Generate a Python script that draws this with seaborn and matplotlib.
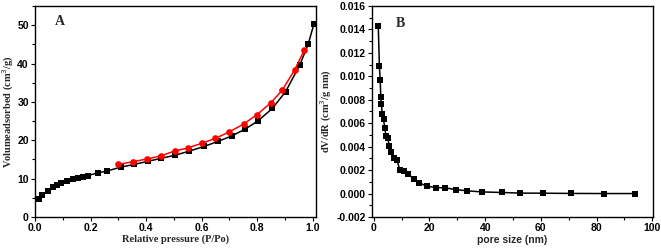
import numpy as np
import pandas as pd
import matplotlib
matplotlib.use("Agg")
import matplotlib.pyplot as plt
from matplotlib.ticker import MultipleLocator
import seaborn as sns

# N2 adsorption branch (black squares)
ads_p = [0.016, 0.026, 0.046, 0.064, 0.080, 0.095, 0.114, 0.138, 0.155, 0.172,
         0.190, 0.227, 0.260, 0.309, 0.357, 0.406, 0.455, 0.504, 0.553, 0.609,
         0.659, 0.708, 0.757, 0.804, 0.855, 0.903, 0.953, 0.984, 1.005]
ads_v = [4.6, 5.8, 6.9, 7.8, 8.4, 8.8, 9.3, 9.8, 10.1, 10.4,
         10.8, 11.5, 12.0, 13.0, 13.7, 14.5, 15.3, 16.1, 17.1, 18.4,
         19.7, 21.1, 22.9, 25.1, 28.3, 32.7, 39.5, 45.0, 50.4]
# desorption branch (red circles)
des_p = [0.300, 0.352, 0.402, 0.452, 0.503, 0.551, 0.600, 0.650, 0.700, 0.751,
         0.800, 0.850, 0.890, 0.935, 0.970]
des_v = [13.7, 14.4, 15.1, 15.9, 17.2, 18.0, 19.2, 20.5, 22.2, 24.2,
         26.7, 29.8, 33.0, 38.3, 43.5]

# pore size distribution
pore_size = [1.6, 2.0, 2.3, 2.5, 2.75, 3.0, 3.5, 3.95, 4.4, 5.0,
             5.6, 6.3, 7.3, 8.3, 9.3, 10.8, 12.3, 14.5, 16.4, 19.0,
             22.3, 25.7, 29.5, 33.6, 38.8, 46.0, 52.5, 60.6, 71.0, 82.8, 93.8]
dvdr = [0.01432, 0.01088, 0.00965, 0.00826, 0.0076, 0.00678, 0.00632, 0.0056, 0.00487, 0.0047,
        0.00407, 0.00353, 0.00307, 0.00285, 0.00205, 0.00194, 0.00168, 0.00122, 0.00091, 0.00063,
        0.00051, 0.00048, 0.00034, 0.00023, 0.00014, 0.00009, 0.00004, 0.00003, 0.00001, 0.0, 0.0]

sns.set_style("ticks")
serif = {"family": "Liberation Serif", "weight": "bold", "size": 7.5}
sans_b = {"family": "Liberation Sans", "weight": "bold", "size": 7.5}

fig = plt.figure(figsize=(6.61, 2.48), dpi=100)
ax1 = fig.add_axes([0.053, 0.125, 0.425, 0.851])
ax2 = fig.add_axes([0.563, 0.125, 0.425, 0.851])

df_ads = pd.DataFrame({"p": ads_p, "v": ads_v})
df_des = pd.DataFrame({"p": des_p, "v": des_v})
sns.lineplot(data=df_ads, x="p", y="v", ax=ax1, color="black", marker="s",
             markersize=4.5, markeredgewidth=0, linewidth=1.1, sort=False)
sns.lineplot(data=df_des, x="p", y="v", ax=ax1, color="#ff0000", marker="o",
             markersize=4.8, markeredgewidth=0, linewidth=1.1, sort=False)
ax1.set_xlim(0, 1.012)
ax1.set_ylim(0, 55)
ax1.xaxis.set_major_locator(MultipleLocator(0.2))
ax1.xaxis.set_minor_locator(MultipleLocator(0.1))
ax1.yaxis.set_major_locator(MultipleLocator(10))
ax1.yaxis.set_minor_locator(MultipleLocator(5))
ax1.set_xticklabels([f"{v:.1f}" for v in ax1.get_xticks()])
ax1.set_xlabel("Relative pressure (P/Po)", fontdict=serif, labelpad=1)
ax1.set_ylabel("Volumeadsorbed (cm$^3$/g)", fontdict=serif, labelpad=1)
ax1.text(0.07, 0.91, "A", transform=ax1.transAxes, fontdict={"family": "Liberation Serif", "weight": "bold", "size": 10})

df_psd = pd.DataFrame({"d": pore_size, "dv": dvdr})
sns.lineplot(data=df_psd, x="d", y="dv", ax=ax2, color="black", marker="s",
             markersize=4.5, markeredgewidth=0, linewidth=1.1, sort=False)
ax2.set_xlim(-0.6, 100.3)
ax2.set_ylim(-0.002, 0.016)
ax2.xaxis.set_major_locator(MultipleLocator(20))
ax2.xaxis.set_minor_locator(MultipleLocator(10))
ax2.yaxis.set_major_locator(MultipleLocator(0.002))
ax2.yaxis.set_minor_locator(MultipleLocator(0.001))
ax2.set_yticklabels([f"{v:.3f}" for v in ax2.get_yticks()])
ax2.set_xlabel("pore size (nm)", fontdict=sans_b, labelpad=1)
ax2.set_ylabel("dV/dR (cm$^3$/g nm)", fontdict=serif, labelpad=2)
ax2.text(0.085, 0.9, "B", transform=ax2.transAxes, fontdict={"family": "Liberation Serif", "weight": "bold", "size": 10})

for ax in (ax1, ax2):
    for s in ax.spines.values():
        s.set_visible(True)
        s.set_linewidth(1.0)
        s.set_color("black")
    ax.tick_params(which="both", direction="out", width=0.8, colors="black",
                   top=False, right=False)
    ax.tick_params(which="major", length=3)
    ax.tick_params(which="minor", length=2)
    for lab in ax.get_xticklabels() + ax.get_yticklabels():
        lab.set_fontfamily("Liberation Sans")
        lab.set_fontweight("bold")
        lab.set_fontsize(7.5)
    ax.tick_params(pad=1.5)

fig.savefig("out.png", dpi=100)
